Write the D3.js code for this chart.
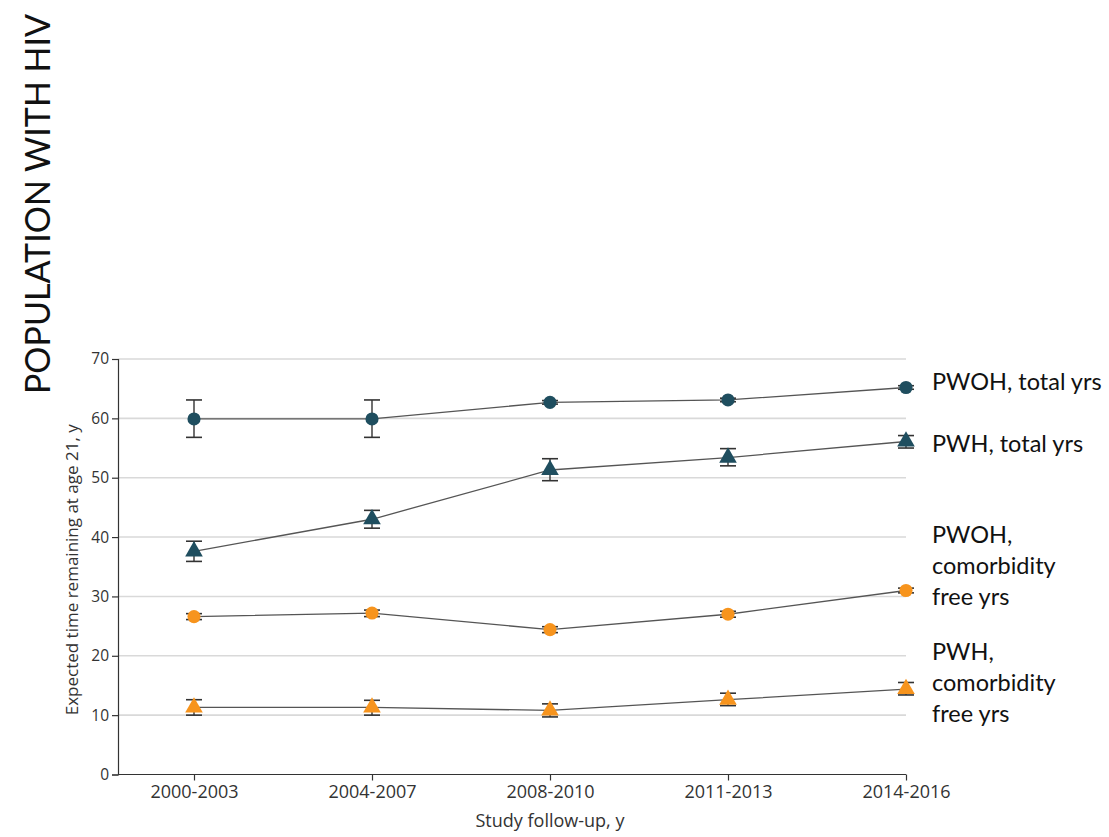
<!DOCTYPE html>
<html>
<head>
<meta charset="utf-8">
<script src="https://cdn.jsdelivr.net/npm/d3@7"></script>
<style>
  html, body { margin: 0; padding: 0; background: #ffffff; }
  svg { display: block; }
</style>
</head>
<body>
<svg id="chart" width="1109" height="837"></svg>
<script>
// Study periods on the x axis
const periods = ["2000-2003", "2004-2007", "2008-2010", "2011-2013", "2014-2016"];
const yTicks = [0, 10, 20, 30, 40, 50, 60, 70];

// Expected years remaining at age 21 (point estimate, lower and upper CI)
const pwohTotal    = [59.9, 59.9, 62.7, 63.1, 65.2];
const pwohTotalLo  = [56.8, 56.8, 62.4, 62.8, 64.9];
const pwohTotalHi  = [63.1, 63.1, 63.0, 63.4, 65.5];

const pwhTotal     = [37.6, 43.0, 51.3, 53.4, 56.1];
const pwhTotalLo   = [35.9, 41.5, 49.5, 52.0, 55.0];
const pwhTotalHi   = [39.3, 44.5, 53.2, 54.9, 57.1];

const pwohFree     = [26.6, 27.2, 24.4, 27.0, 31.0];
const pwohFreeLo   = [26.1, 26.6, 23.9, 26.5, 30.6];
const pwohFreeHi   = [27.1, 27.7, 24.9, 27.5, 31.4];

const pwhFree      = [11.3, 11.3, 10.8, 12.6, 14.4];
const pwhFreeLo    = [10.0, 10.0, 9.7, 11.6, 13.4];
const pwhFreeHi    = [12.6, 12.5, 11.9, 13.7, 15.5];

// Line labels on the right side
const pwohTotalLabel = ["PWOH, total yrs"];
const pwhTotalLabel  = ["PWH, total yrs"];
const pwohFreeLabel  = ["PWOH,", "comorbidity", "free yrs"];
const pwhFreeLabel   = ["PWH,", "comorbidity", "free yrs"];

const TEAL = "#1f4e5f";
const ORANGE = "#f7941d";

const series = [
  { values: pwohTotal, lo: pwohTotalLo, hi: pwohTotalHi, color: TEAL,   shape: "circle",   label: pwohTotalLabel, labelBase: 390 },
  { values: pwhTotal,  lo: pwhTotalLo,  hi: pwhTotalHi,  color: TEAL,   shape: "triangle", label: pwhTotalLabel,  labelBase: 452 },
  { values: pwohFree,  lo: pwohFreeLo,  hi: pwohFreeHi,  color: ORANGE, shape: "circle",   label: pwohFreeLabel,  labelBase: 543 },
  { values: pwhFree,   lo: pwhFreeLo,   hi: pwhFreeHi,   color: ORANGE, shape: "triangle", label: pwhFreeLabel,   labelBase: 660 }
];

const svg = d3.select("#chart");
const axisFont = "'Open Sans', 'DejaVu Sans', sans-serif";
const labelFont = "Lato, 'Open Sans', sans-serif";

const plotLeft = 118, plotRight = 906, plotTop = 359, plotBottom = 774.5;

const x = d3.scalePoint().domain(periods).range([194, 906]);
const y = d3.scaleLinear().domain([0, 70]).range([plotBottom, plotTop]);

// Horizontal gridlines
svg.append("g")
  .selectAll("line")
  .data(yTicks.filter(t => t > 0))
  .join("line")
  .attr("x1", plotLeft).attr("x2", plotRight)
  .attr("y1", d => y(d)).attr("y2", d => y(d))
  .attr("stroke", "#d9d9d9")
  .attr("stroke-width", 1.6);

// Y axis
const yAxis = svg.append("g")
  .attr("transform", `translate(${plotLeft},0)`)
  .call(d3.axisLeft(y).tickValues(yTicks).tickSize(6).tickPadding(3));
yAxis.select(".domain").attr("stroke", "#333").attr("stroke-width", 1.2);
yAxis.selectAll(".tick line").attr("stroke", "#333").attr("stroke-width", 1.2);
yAxis.selectAll(".tick text")
  .attr("font-family", axisFont).attr("font-size", 15.5).attr("fill", "#333");

// X axis: baseline drawn from the y axis to the last period
const xAxis = svg.append("g")
  .attr("transform", `translate(0,${plotBottom})`)
  .call(d3.axisBottom(x).tickSize(6).tickPadding(5));
xAxis.select(".domain").remove();
xAxis.append("line")
  .attr("x1", plotLeft).attr("x2", plotRight).attr("y1", 0).attr("y2", 0)
  .attr("stroke", "#333").attr("stroke-width", 1.2);
xAxis.selectAll(".tick line").attr("stroke", "#333").attr("stroke-width", 1.2);
xAxis.selectAll(".tick text")
  .attr("font-family", axisFont).attr("font-size", 18).attr("fill", "#333");

// Axis titles
svg.append("text")
  .attr("x", x(periods[2])).attr("y", 827)
  .attr("text-anchor", "middle")
  .attr("font-family", axisFont).attr("font-size", 18).attr("fill", "#333")
  .text("Study follow-up, y");

svg.append("text")
  .attr("transform", `translate(78,${(plotTop + plotBottom) / 2 + 3}) rotate(-90)`)
  .attr("text-anchor", "middle")
  .attr("font-family", axisFont).attr("font-size", 17).attr("fill", "#333")
  .text("Expected time remaining at age 21, y");

// Panel title
svg.append("text")
  .attr("transform", "translate(50,204) rotate(-90)")
  .attr("text-anchor", "middle")
  .attr("font-family", labelFont).attr("font-size", 34).attr("fill", "#111")
  .text("POPULATION WITH HIV");

const line = d3.line().x((d, i) => x(periods[i])).y(d => y(d));

series.forEach(s => {
  const g = svg.append("g");
  // error bars
  const eb = g.append("g").selectAll("g").data(s.values).join("g");
  eb.append("line")
    .attr("x1", (d, i) => x(periods[i])).attr("x2", (d, i) => x(periods[i]))
    .attr("y1", (d, i) => y(s.lo[i])).attr("y2", (d, i) => y(s.hi[i]))
    .attr("stroke", "#333").attr("stroke-width", 1.4);
  ["lo", "hi"].forEach(k => {
    eb.append("line")
      .attr("x1", (d, i) => x(periods[i]) - 8).attr("x2", (d, i) => x(periods[i]) + 8)
      .attr("y1", (d, i) => y(s[k][i])).attr("y2", (d, i) => y(s[k][i]))
      .attr("stroke", "#333").attr("stroke-width", 1.6);
  });
  // connecting line
  g.append("path")
    .datum(s.values)
    .attr("d", line)
    .attr("fill", "none")
    .attr("stroke", "#555")
    .attr("stroke-width", 1.3);
  // markers
  const sym = d3.symbol()
    .type(s.shape === "circle" ? d3.symbolCircle : d3.symbolTriangle)
    .size(s.shape === "circle" ? 135 : 135);
  g.append("g").selectAll("path").data(s.values).join("path")
    .attr("transform", (d, i) => `translate(${x(periods[i])},${y(d)})`)
    .attr("d", sym)
    .attr("fill", s.color);
  // right-side label
  const t = svg.append("text")
    .attr("x", 932).attr("y", s.labelBase)
    .attr("font-family", labelFont).attr("font-size", 23.5).attr("fill", "#111");
  s.label.forEach((ln, j) => {
    t.append("tspan").attr("x", 932).attr("y", s.labelBase + j * 31).text(ln);
  });
});
</script>
</body>
</html>
